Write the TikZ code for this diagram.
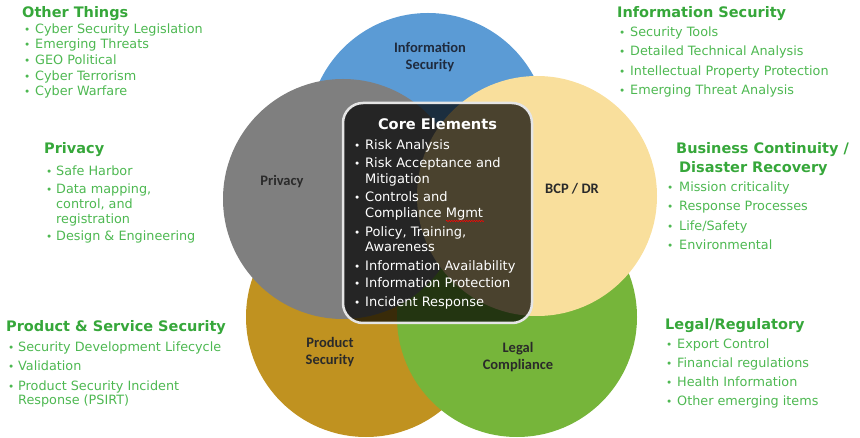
\documentclass[tikz,border=0pt]{standalone}
\usepackage{fontspec}
\setmainfont{DejaVu Sans}
\newfontfamily\labelfont{Carlito}
\usetikzlibrary{decorations.pathmorphing}
\definecolor{cblue}{HTML}{5B9BD5}
\definecolor{cgray}{HTML}{7F7F7F}
\definecolor{cyellow}{HTML}{F9DF9C}
\definecolor{cgold}{HTML}{C09220}
\definecolor{cgreen}{HTML}{76B53A}
\definecolor{itemgreen}{HTML}{4DB851}
\definecolor{headgreen}{HTML}{36A73A}
\definecolor{labeldark}{HTML}{2A2A2A}
\definecolor{labelnavy}{HTML}{1F2B3E}
\newcommand{\bul}[1]{\makebox[#1pt][l]{\raisebox{0.3pt}{\fontsize{10.5}{10}\selectfont\textbullet}}}
\begin{document}
\begin{tikzpicture}[x=1pt,y=-1pt,
  head/.style={font=\fontsize{14.5}{16}\selectfont\bfseries, text=headgreen, anchor=base west, inner sep=0pt},
  itm/.style={font=\fontsize{12.8}{15}\selectfont, text=itemgreen, anchor=base west, inner sep=0pt},
  coreitm/.style={font=\fontsize{13}{15}\selectfont, text=white, anchor=base west, inner sep=0pt},
  corehead/.style={font=\fontsize{14.6}{16}\selectfont\bfseries, text=white, anchor=base, inner sep=0pt},
  clabel/.style={font=\labelfont\bfseries\fontsize{14.5}{17}\selectfont, text=labeldark, align=center, inner sep=0pt},
  circ/.style={circle, minimum size=240pt, inner sep=0pt, draw=none},
  corebox/.style={rectangle, rounded corners=20pt, minimum width=189pt, minimum height=220pt,
     draw=gray!20, line width=2.5pt, fill=black, fill opacity=0.7, draw opacity=1}
]
\useasboundingbox (0,0) rectangle (860,438);
% circles
\node[circ, fill=cblue]   (cinfo)  at (428,133) {};
\node[circ, fill=cgold]   (cprod)  at (366,317) {};
\node[circ, fill=cgreen]  (clegal) at (517,317) {};
\node[circ, fill=cgray]   (cpriv)  at (343,199) {};
\node[circ, fill=cyellow] (cbcp)   at (537,196) {};
% core box
\node[corebox] (core) at (437.5,213) {};
% circle labels
\node[clabel, text=labelnavy] (linfo) at (430,57) {Information\\Security};
\node[clabel] (lpriv) at (282,182) {Privacy};
\node[clabel] (lbcp) at (572,189) {BCP / DR};
\node[clabel] (lprod) at (330,352) {Product\\Security};
\node[clabel] (llegal) at (518,357) {Legal\\Compliance};
% core elements
\node[corehead] (ceH) at (437.5,130) {Core Elements};
\node[coreitm] (ce1)  at (354,150) {\bul{11}Risk Analysis};
\node[coreitm] (ce2)  at (354,168) {\bul{11}Risk Acceptance and};
\node[coreitm] (ce2b) at (365,184) {Mitigation};
\node[coreitm] (ce3)  at (354,202) {\bul{11}Controls and};
\node[coreitm] (ce3b) at (365,218) {Compliance Mgmt};
\node[coreitm] (ce4)  at (354,237) {\bul{11}Policy, Training,};
\node[coreitm] (ce4b) at (365,252) {Awareness};
\node[coreitm] (ce5)  at (354,271) {\bul{11}Information Availability};
\node[coreitm] (ce6)  at (354,288) {\bul{11}Information Protection};
\node[coreitm] (ce7)  at (354,307) {\bul{11}Incident Response};
\coordinate (sqA) at (446,221);
\coordinate (sqB) at (484,221);
\draw[red, line width=0.5pt, decorate, decoration={snake, amplitude=0.7pt, segment length=2.5pt}] (sqA) -- (sqB);
% Other Things
\node[head] (otH) at (22,18) {Other Things};
\node[itm] (ot1) at (24,34) {\bul{11}Cyber Security Legislation};
\node[itm] (ot2) at (24,49) {\bul{11}Emerging Threats};
\node[itm] (ot3) at (24,65) {\bul{11}GEO Political};
\node[itm] (ot4) at (24,81) {\bul{11}Cyber Terrorism};
\node[itm] (ot5) at (24,96) {\bul{11}Cyber Warfare};
% Information Security
\node[head] (isH) at (617,18) {Information Security};
\node[itm] (is1) at (619,37) {\bul{11}Security Tools};
\node[itm] (is2) at (619,56) {\bul{11}Detailed Technical Analysis};
\node[itm] (is3) at (619,76) {\bul{11}Intellectual Property Protection};
\node[itm] (is4) at (619,95) {\bul{11}Emerging Threat Analysis};
% Privacy
\node[head] (pvH) at (44,154) {Privacy};
\node[itm] (pv1) at (46,176) {\bul{10}Safe Harbor};
\node[itm] (pv2) at (46,194) {\bul{10}Data mapping,};
\node[itm] (pv3) at (56,209) {control, and};
\node[itm] (pv4) at (56,224) {registration};
\node[itm] (pv5) at (46,241) {\bul{10}Design \& Engineering};
% BCP / DR
\node[head] (bcH1) at (676,154) {Business Continuity /};
\node[head] (bcH2) at (679,173) {Disaster Recovery};
\node[itm] (bc1) at (667,192) {\bul{12}Mission criticality};
\node[itm] (bc2) at (667,211) {\bul{12}Response Processes};
\node[itm] (bc3) at (667,231) {\bul{12}Life/Safety};
\node[itm] (bc4) at (667,250) {\bul{12}Environmental};
% Product & Service Security
\node[head] (psH) at (6,332) {Product \& Service Security};
\node[itm] (ps1) at (8,352) {\bul{10}Security Development Lifecycle};
\node[itm] (ps2) at (8,371) {\bul{10}Validation};
\node[itm] (ps3) at (8,391) {\bul{10}Product Security Incident};
\node[itm] (ps4) at (18,405) {Response (PSIRT)};
% Legal / Regulatory
\node[head] (lgH) at (665,330) {Legal/Regulatory};
\node[itm] (lg1) at (666,349) {\bul{11}Export Control};
\node[itm] (lg2) at (666,368) {\bul{11}Financial regulations};
\node[itm] (lg3) at (666,387) {\bul{11}Health Information};
\node[itm] (lg4) at (666,406) {\bul{11}Other emerging items};
\end{tikzpicture}
\end{document}
